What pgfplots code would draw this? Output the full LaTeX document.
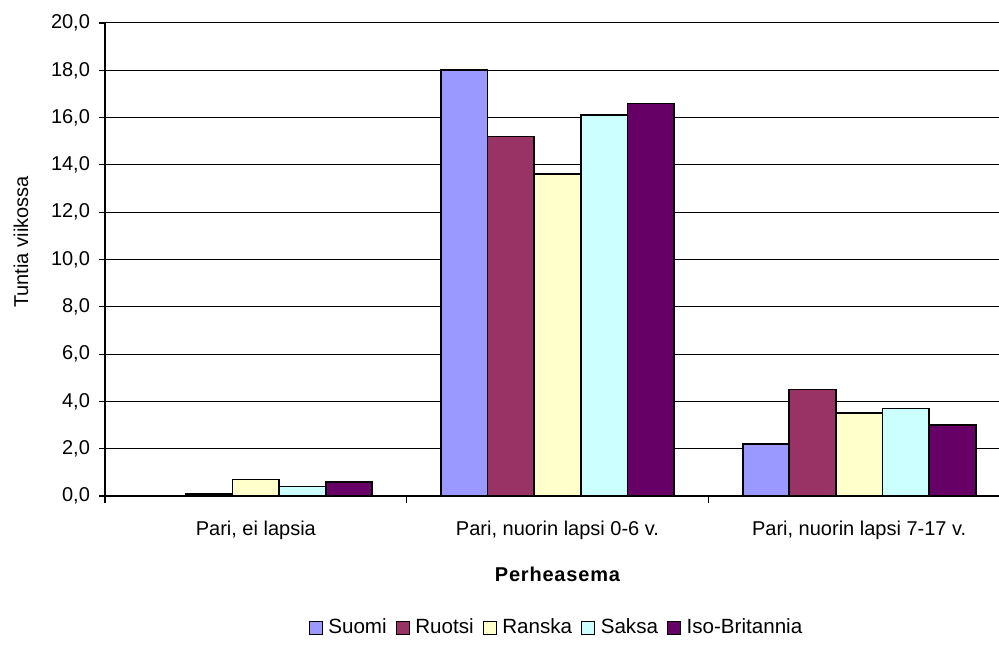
\documentclass[border=0pt]{standalone}
\usepackage{fontspec}
\setmainfont{Liberation Sans}
\usepackage{pgfplots}
\pgfplotsset{compat=1.18}
\definecolor{cSuomi}{HTML}{9999FF}
\definecolor{cRuotsi}{HTML}{993366}
\definecolor{cRanska}{HTML}{FFFFCC}
\definecolor{cSaksa}{HTML}{CCFFFF}
\definecolor{cIso}{HTML}{660066}
\begin{document}
\fontsize{10pt}{12pt}\selectfont
\begin{tikzpicture}
\path[use as bounding box] (-52.5pt,-76pt) rectangle (447pt,248pt);
\begin{axis}[
  scale only axis,
  width=452.5pt, height=236.5pt,
  ybar=0pt,
  bar width=0.1545,
  xmin=-0.5, xmax=2.5,
  ymin=0, ymax=20,
  ytick={0,2,...,20},
  xtick={0,1,2},
  xticklabels={{Pari, ei lapsia},{Pari, nuorin lapsi 0-6 v.},{Pari, nuorin lapsi 7-17 v.}},
  minor xtick={-0.5,0.5,1.5,2.5},
  major x tick style={draw=none},
  minor x tick style={black, line width=0.6pt},
  minor tick length=3.5pt,
  major tick length=3pt,
  tick align=outside,
  ytick style={black, line width=0.6pt},
  ymajorgrids,
  grid style={black, line width=0.5pt},
  axis x line*=bottom,
  axis y line*=left,
  axis line style={black, line width=0.9pt},
  x axis line style={-},
  y axis line style={-},
  /pgf/number format/.cd, fixed, fixed zerofill, precision=1, use comma, assume math mode=true,
  /pgfplots/.cd,
  yticklabel style={font=\fontsize{10pt}{12pt}\selectfont, xshift=-1pt},
  xticklabel style={font=\fontsize{10pt}{12pt}\selectfont, yshift=-6pt},
  ylabel={Tuntia viikossa},
  ylabel style={at={(axis description cs:-0.0928,0.537)}, anchor=center, font=\fontsize{10pt}{12pt}\selectfont},
  xlabel={\textbf{P\kern0.4pt e\kern0.4pt r\kern0.4pt h\kern0.4pt e\kern0.4pt a\kern0.4pt s\kern0.4pt e\kern0.4pt m\kern0.4pt a}},
  xlabel style={at={(axis description cs:0.5,0)}, anchor=center, yshift=-39pt, font=\fontsize{10pt}{12pt}\selectfont},
  legend columns=5,
  legend style={at={(rel axis cs:0.5,0)}, anchor=center, yshift=-66pt, draw=none, fill=none,
    font=\fontsize{10.3pt}{12pt}\selectfont,
    /tikz/every even column/.append style={column sep=2.5pt},
    /tikz/every odd column/.append style={column sep=0.8pt}},
  legend image code/.code={\draw[#1, line width=0.6pt] (0pt,-3.1pt) rectangle (6.4pt,3.1pt);},
  legend cell align=left,
  every axis plot/.append style={draw=black, line width=0.9pt},
]
\addplot[fill=cSuomi] coordinates {(0,0) (1,18.0) (2,2.2)};
\addplot[fill=cRuotsi] coordinates {(0,0.1) (1,15.2) (2,4.5)};
\addplot[fill=cRanska] coordinates {(0,0.7) (1,13.6) (2,3.5)};
\addplot[fill=cSaksa] coordinates {(0,0.4) (1,16.1) (2,3.7)};
\addplot[fill=cIso] coordinates {(0,0.6) (1,16.6) (2,3.0)};
\legend{Suomi,Ruotsi,Ranska,Saksa,Iso-Britannia}
\end{axis}
\end{tikzpicture}
\end{document}
